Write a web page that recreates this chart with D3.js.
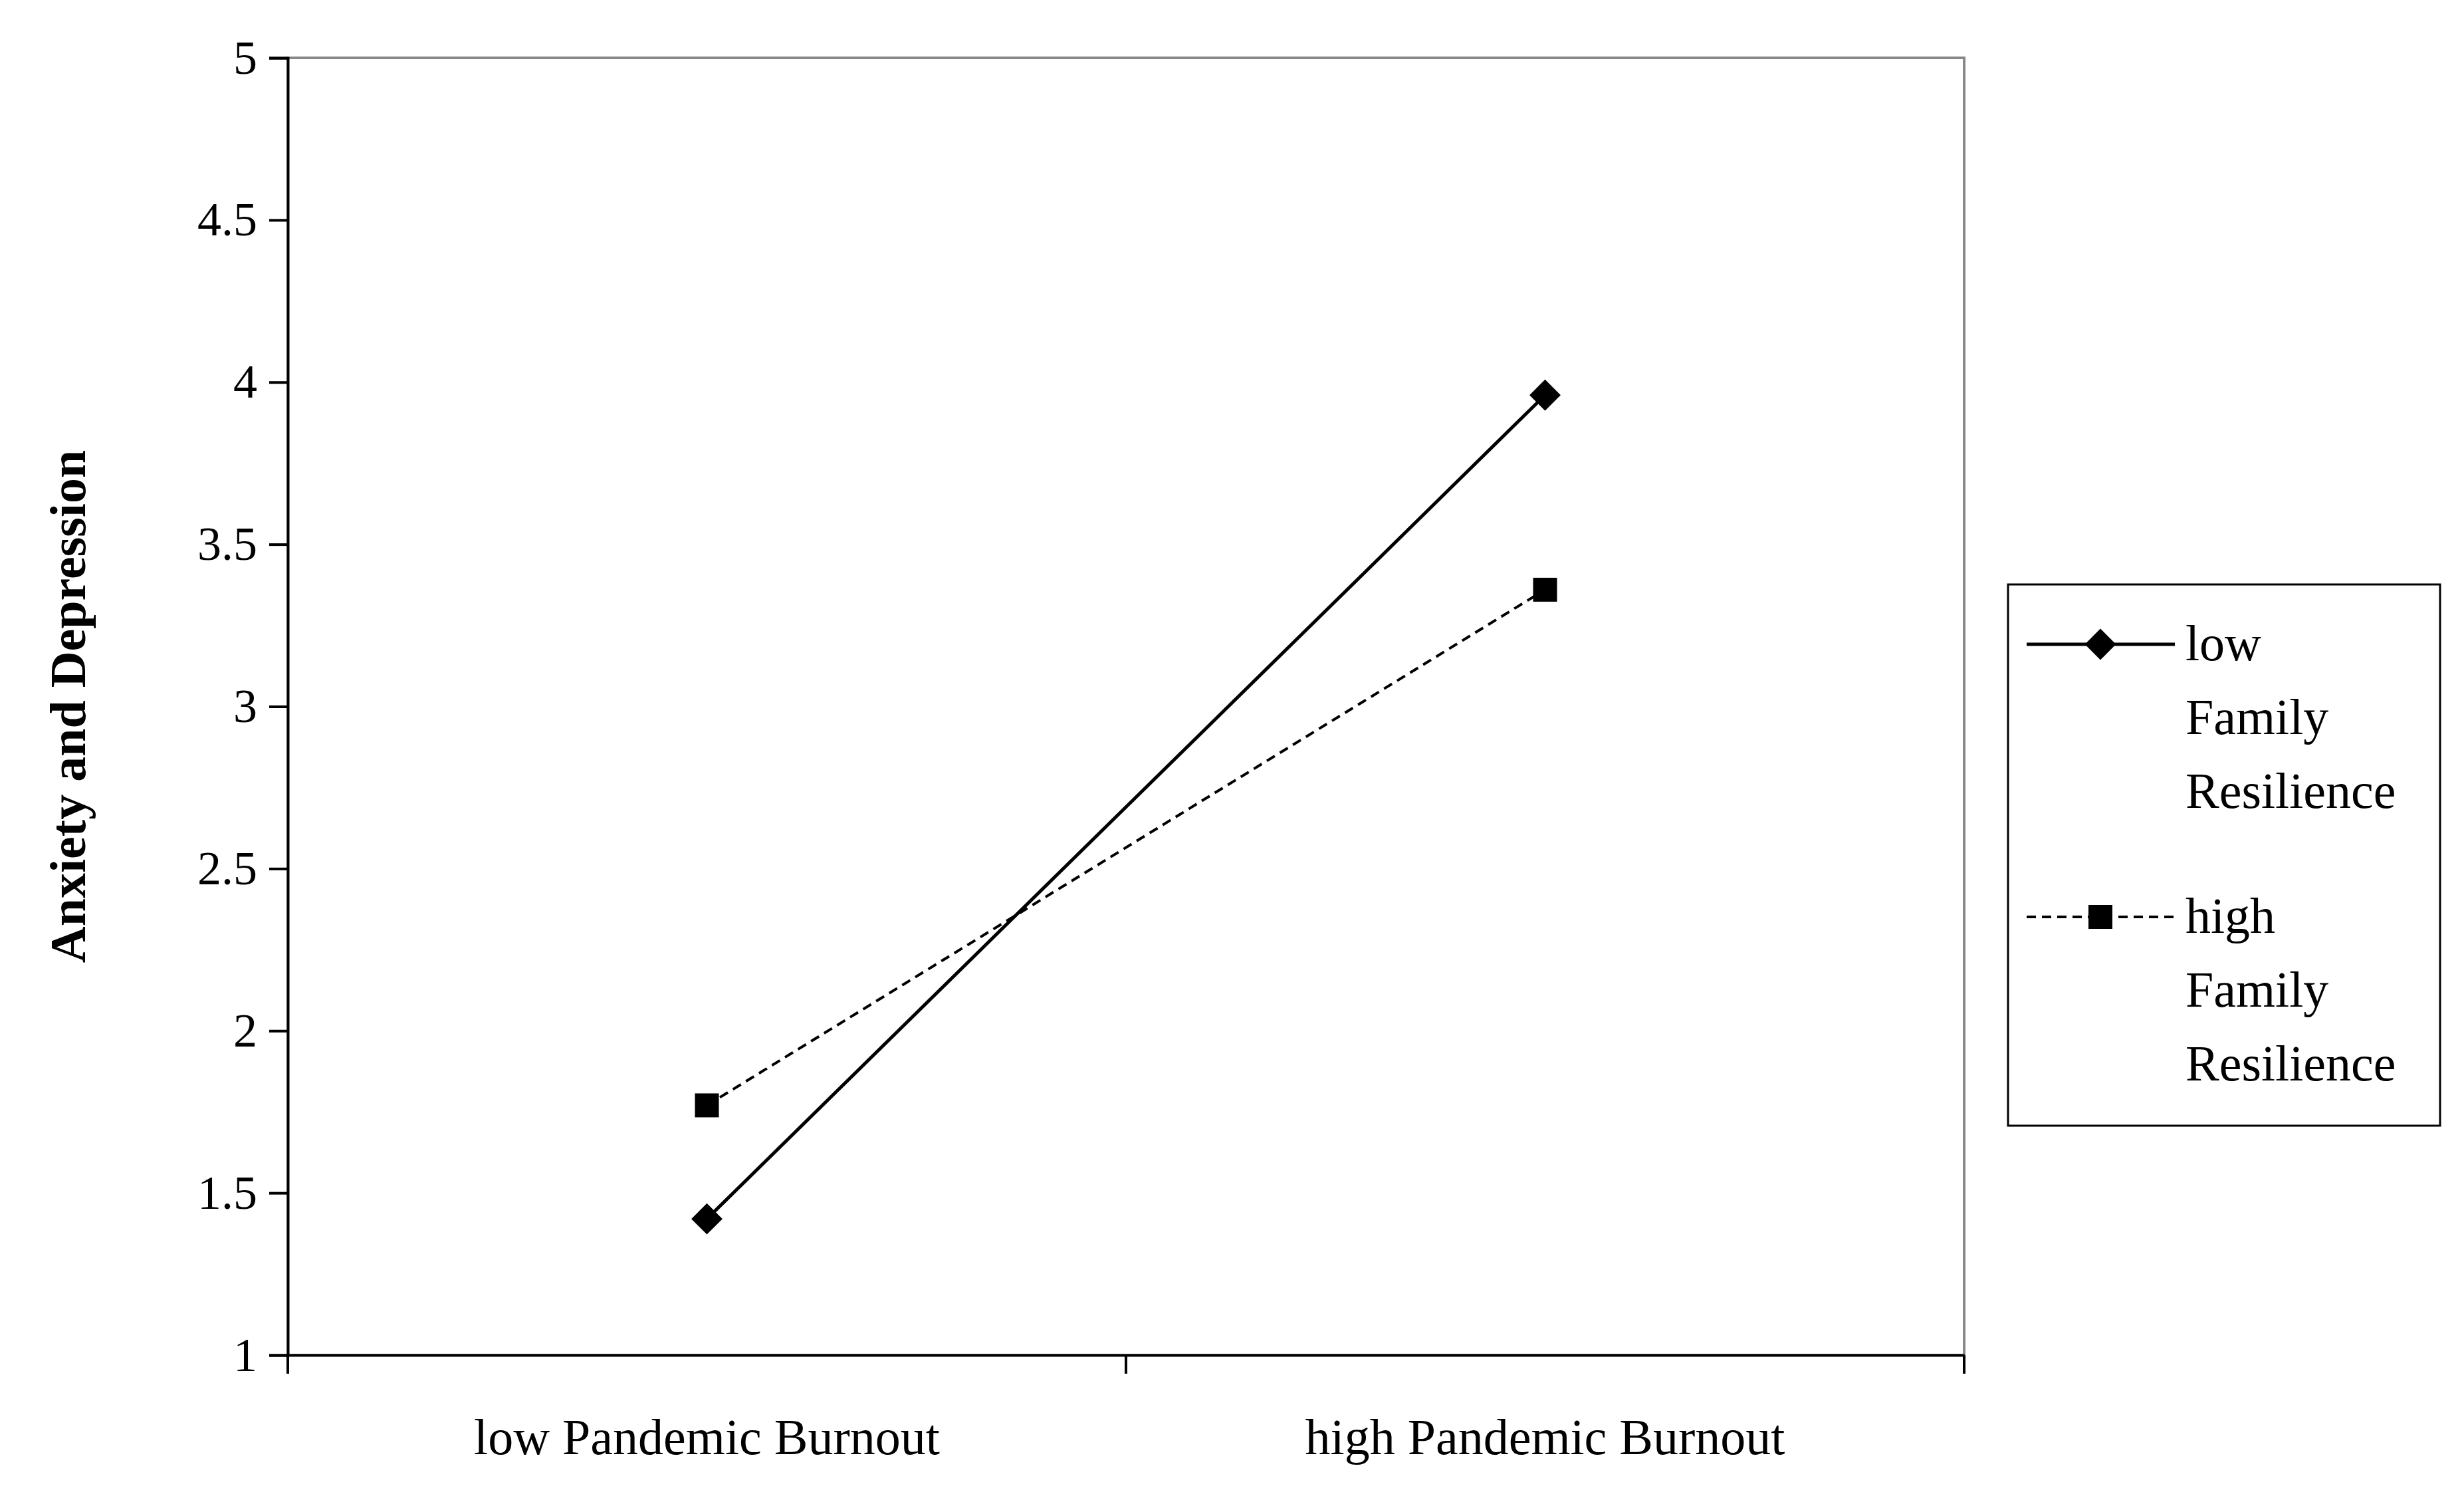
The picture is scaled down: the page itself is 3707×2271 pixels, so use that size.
<!DOCTYPE html>
<html><head><meta charset="utf-8">
<script src="https://cdn.jsdelivr.net/npm/d3@7"></script>
<style>body{margin:0;background:#fff}</style>
</head><body><div id="chart"></div>
<script>
const categories = ["low Pandemic Burnout", "high Pandemic Burnout"];
const lowFR = [1.42, 3.96];
const highFR = [1.77, 3.36];
const yTicks = [1, 1.5, 2, 2.5, 3, 3.5, 4, 4.5, 5];
const seriesNames = [["low", "Family", "Resilience"], ["high", "Family", "Resilience"]];

const W = 3707, H = 2271;
const font = "'Liberation Serif', 'DejaVu Serif', serif";
const svg = d3.select("#chart").append("svg").attr("width", W).attr("height", H)
  .style("font-family", font);

const pL = 433, pR = 2955, pT = 87, pB = 2038;
const x = d3.scaleBand().domain(categories).range([pL, pR]);
const y = d3.scaleLinear().domain([1, 5]).range([pB, pT]);

// plot border (grey)
svg.append("rect").attr("x", pL).attr("y", pT).attr("width", pR - pL).attr("height", pB - pT)
  .attr("fill", "none").attr("stroke", "#888").attr("stroke-width", 4);

// y axis
const ya = svg.append("g").attr("transform", `translate(${pL},0)`)
  .call(d3.axisLeft(y).tickValues(yTicks).tickFormat(d3.format("")).tickSize(28).tickPadding(18));
ya.select(".domain").attr("stroke", "#000").attr("stroke-width", 4);
ya.selectAll(".tick line").attr("stroke", "#000").attr("stroke-width", 4);
ya.selectAll("text").attr("font-size", 72).attr("font-family", font).attr("fill", "#000");

// x axis
const xa = svg.append("g").attr("transform", `translate(0,${pB})`)
  .call(d3.axisBottom(x).tickSize(0).tickPadding(95));
xa.select(".domain").attr("stroke", "#000").attr("stroke-width", 4);
xa.selectAll("text").attr("font-size", 76).attr("font-family", font).attr("fill", "#000");
const bounds = [pL, pL + x.bandwidth(), pR];
svg.selectAll("line.xt").data(bounds).join("line").attr("class", "xt")
  .attr("x1", d => d).attr("x2", d => d).attr("y1", pB).attr("y2", pB + 28)
  .attr("stroke", "#000").attr("stroke-width", 4);

// y title
svg.append("text").attr("transform", `translate(128,${(pT + pB) / 2}) rotate(-90)`)
  .attr("text-anchor", "middle").attr("font-size", 76).attr("font-weight", "bold").text("Anxiety and Depression");

const cx = d => x(d) + x.bandwidth() / 2;
const line = d3.line().x((d, i) => cx(categories[i])).y(d => y(d));

svg.append("path").attr("d", line(lowFR)).attr("fill", "none").attr("stroke", "#000").attr("stroke-width", 5);
svg.append("path").attr("d", line(highFR)).attr("fill", "none").attr("stroke", "#000").attr("stroke-width", 4)
  .attr("stroke-dasharray", "14,9");

const diamond = d3.symbol().type(d3.symbolDiamond2).size(1400);
svg.selectAll("path.dm").data(lowFR).join("path").attr("class", "dm")
  .attr("d", diamond).attr("transform", (d, i) => `translate(${cx(categories[i])},${y(d)})`);
svg.selectAll("rect.sq").data(highFR).join("rect").attr("class", "sq")
  .attr("x", (d, i) => cx(categories[i]) - 18).attr("y", d => y(d) - 18)
  .attr("width", 36).attr("height", 36);

// legend
const lg = svg.append("g");
lg.append("rect").attr("x", 3021).attr("y", 879).attr("width", 650).attr("height", 814)
  .attr("fill", "#fff").attr("stroke", "#000").attr("stroke-width", 3);
seriesNames.forEach((names, i) => {
  const y0 = 969 + i * 410;
  lg.append("line").attr("x1", 3049).attr("x2", 3272).attr("y1", y0).attr("y2", y0)
    .attr("stroke", "#000").attr("stroke-width", i ? 4 : 5).attr("stroke-dasharray", i ? "14,9" : null);
  if (i) lg.append("rect").attr("x", 3142).attr("y", y0 - 18).attr("width", 36).attr("height", 36);
  else lg.append("path").attr("d", diamond).attr("transform", `translate(3160,${y0})`);
  names.forEach((t, j) => lg.append("text").attr("x", 3288).attr("y", y0 + 24 + j * 111)
    .attr("font-size", 76).text(t));
});
</script></body></html>
